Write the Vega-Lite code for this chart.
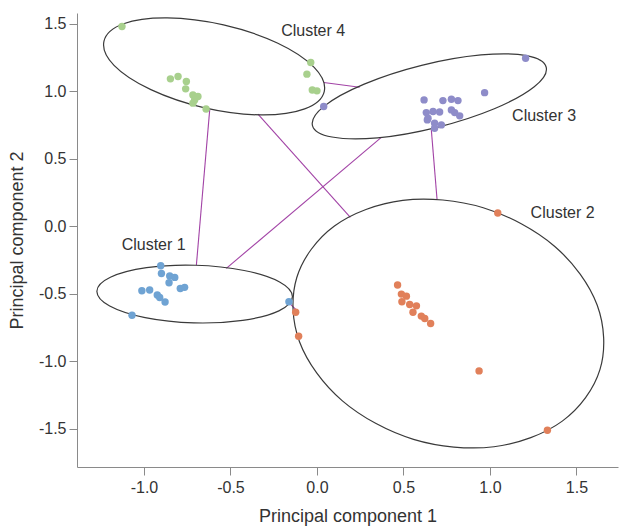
{
  "$schema": "https://vega.github.io/schema/vega-lite/v6.json",
  "width": 541,
  "height": 454,
  "autosize": {"type": "none"},
  "padding": {"left": 77, "top": 13, "right": 7, "bottom": 62},
  "background": "white",
  "config": {
    "view": {"stroke": null},
    "font": "Liberation Sans",
    "axis": {
      "grid": false,
      "domainColor": "#8a8a8a",
      "tickColor": "#8a8a8a",
      "tickSize": 8,
      "labelColor": "#333333",
      "titleColor": "#333333",
      "labelFont": "Liberation Sans",
      "titleFont": "Liberation Sans",
      "labelFontSize": 16,
      "titleFontSize": 18,
      "titleFontWeight": "normal"
    }
  },
  "datasets": {
    "pts": [
      {"cluster": "4", "x": -1.127, "y": 1.48},
      {"cluster": "4", "x": -0.847, "y": 1.092},
      {"cluster": "4", "x": -0.803, "y": 1.109},
      {"cluster": "4", "x": -0.755, "y": 1.072},
      {"cluster": "4", "x": -0.759, "y": 1.018},
      {"cluster": "4", "x": -0.717, "y": 0.973},
      {"cluster": "4", "x": -0.688, "y": 0.961},
      {"cluster": "4", "x": -0.707, "y": 0.936},
      {"cluster": "4", "x": -0.717, "y": 0.912},
      {"cluster": "4", "x": -0.641, "y": 0.869},
      {"cluster": "4", "x": -0.036, "y": 1.213},
      {"cluster": "4", "x": -0.058, "y": 1.127},
      {"cluster": "4", "x": -0.027, "y": 1.01},
      {"cluster": "4", "x": 0.0, "y": 1.003},
      {"cluster": "3", "x": 0.039, "y": 0.887},
      {"cluster": "3", "x": 1.206, "y": 1.245},
      {"cluster": "3", "x": 0.969, "y": 0.99},
      {"cluster": "3", "x": 0.619, "y": 0.936},
      {"cluster": "3", "x": 0.728, "y": 0.931},
      {"cluster": "3", "x": 0.777, "y": 0.941},
      {"cluster": "3", "x": 0.815, "y": 0.931},
      {"cluster": "3", "x": 0.632, "y": 0.842},
      {"cluster": "3", "x": 0.671, "y": 0.85},
      {"cluster": "3", "x": 0.709, "y": 0.847},
      {"cluster": "3", "x": 0.777, "y": 0.862},
      {"cluster": "3", "x": 0.796, "y": 0.842},
      {"cluster": "3", "x": 0.825, "y": 0.818},
      {"cluster": "3", "x": 0.642, "y": 0.8},
      {"cluster": "3", "x": 0.68, "y": 0.763},
      {"cluster": "3", "x": 0.719, "y": 0.751},
      {"cluster": "3", "x": 0.638, "y": 0.788},
      {"cluster": "3", "x": 0.68, "y": 0.726},
      {"cluster": "1", "x": -0.903, "y": -0.293},
      {"cluster": "1", "x": -0.899, "y": -0.35},
      {"cluster": "1", "x": -0.851, "y": -0.369},
      {"cluster": "1", "x": -0.822, "y": -0.379},
      {"cluster": "1", "x": -0.855, "y": -0.419},
      {"cluster": "1", "x": -0.79, "y": -0.461},
      {"cluster": "1", "x": -0.765, "y": -0.453},
      {"cluster": "1", "x": -1.012, "y": -0.478},
      {"cluster": "1", "x": -0.967, "y": -0.473},
      {"cluster": "1", "x": -0.923, "y": -0.51},
      {"cluster": "1", "x": -0.909, "y": -0.528},
      {"cluster": "1", "x": -0.878, "y": -0.562},
      {"cluster": "1", "x": -1.069, "y": -0.659},
      {"cluster": "1", "x": -0.162, "y": -0.56},
      {"cluster": "2", "x": -0.123, "y": -0.637},
      {"cluster": "2", "x": -0.106, "y": -0.815},
      {"cluster": "2", "x": 0.466, "y": -0.436},
      {"cluster": "2", "x": 0.488, "y": -0.503},
      {"cluster": "2", "x": 0.517, "y": -0.518},
      {"cluster": "2", "x": 0.491, "y": -0.56},
      {"cluster": "2", "x": 0.536, "y": -0.58},
      {"cluster": "2", "x": 0.575, "y": -0.59},
      {"cluster": "2", "x": 0.555, "y": -0.637},
      {"cluster": "2", "x": 0.603, "y": -0.666},
      {"cluster": "2", "x": 0.623, "y": -0.684},
      {"cluster": "2", "x": 0.657, "y": -0.721},
      {"cluster": "2", "x": 0.937, "y": -1.072},
      {"cluster": "2", "x": 1.332, "y": -1.512},
      {"cluster": "2", "x": 1.045, "y": 0.098}
    ],
    "ell": [
      {"e": "E4", "i": 0, "x": 0.042, "y": 0.998},
      {"e": "E4", "i": 1, "x": -0.071, "y": 0.87},
      {"e": "E4", "i": 2, "x": -0.323, "y": 0.825},
      {"e": "E4", "i": 3, "x": -0.649, "y": 0.877},
      {"e": "E4", "i": 4, "x": -0.96, "y": 1.012},
      {"e": "E4", "i": 5, "x": -1.173, "y": 1.192},
      {"e": "E4", "i": 6, "x": -1.231, "y": 1.371},
      {"e": "E4", "i": 7, "x": -1.118, "y": 1.5},
      {"e": "E4", "i": 8, "x": -0.865, "y": 1.544},
      {"e": "E4", "i": 9, "x": -0.54, "y": 1.492},
      {"e": "E4", "i": 10, "x": -0.229, "y": 1.358},
      {"e": "E4", "i": 11, "x": -0.016, "y": 1.177},
      {"e": "E3", "i": 0, "x": 1.325, "y": 1.178},
      {"e": "E3", "i": 1, "x": 1.256, "y": 1.034},
      {"e": "E3", "i": 2, "x": 1.025, "y": 0.871},
      {"e": "E3", "i": 3, "x": 0.694, "y": 0.733},
      {"e": "E3", "i": 4, "x": 0.35, "y": 0.655},
      {"e": "E3", "i": 5, "x": 0.087, "y": 0.661},
      {"e": "E3", "i": 6, "x": -0.026, "y": 0.746},
      {"e": "E3", "i": 7, "x": 0.042, "y": 0.89},
      {"e": "E3", "i": 8, "x": 0.273, "y": 1.053},
      {"e": "E3", "i": 9, "x": 0.605, "y": 1.192},
      {"e": "E3", "i": 10, "x": 0.948, "y": 1.269},
      {"e": "E3", "i": 11, "x": 1.212, "y": 1.264},
      {"e": "E1", "i": 0, "x": -0.142, "y": -0.523},
      {"e": "E1", "i": 1, "x": -0.22, "y": -0.627},
      {"e": "E1", "i": 2, "x": -0.429, "y": -0.697},
      {"e": "E1", "i": 3, "x": -0.712, "y": -0.716},
      {"e": "E1", "i": 4, "x": -0.993, "y": -0.677},
      {"e": "E1", "i": 5, "x": -1.198, "y": -0.591},
      {"e": "E1", "i": 6, "x": -1.272, "y": -0.482},
      {"e": "E1", "i": 7, "x": -1.194, "y": -0.378},
      {"e": "E1", "i": 8, "x": -0.985, "y": -0.307},
      {"e": "E1", "i": 9, "x": -0.702, "y": -0.289},
      {"e": "E1", "i": 10, "x": -0.421, "y": -0.328},
      {"e": "E1", "i": 11, "x": -0.216, "y": -0.413},
      {"e": "E2", "i": 0, "x": 1.636, "y": -1.061},
      {"e": "E2", "i": 1, "x": 1.418, "y": -1.444},
      {"e": "E2", "i": 2, "x": 1.023, "y": -1.634},
      {"e": "E2", "i": 3, "x": 0.558, "y": -1.579},
      {"e": "E2", "i": 4, "x": 0.147, "y": -1.294},
      {"e": "E2", "i": 5, "x": -0.101, "y": -0.856},
      {"e": "E2", "i": 6, "x": -0.117, "y": -0.382},
      {"e": "E2", "i": 7, "x": 0.101, "y": 0.002},
      {"e": "E2", "i": 8, "x": 0.496, "y": 0.192},
      {"e": "E2", "i": 9, "x": 0.961, "y": 0.137},
      {"e": "E2", "i": 10, "x": 1.373, "y": -0.148},
      {"e": "E2", "i": 11, "x": 1.62, "y": -0.586}
    ],
    "links": [
      {"x": 0.039, "y": 1.065, "x2": 0.247, "y2": 1.03},
      {"x": -0.62, "y": 0.862, "x2": -0.697, "y2": -0.288},
      {"x": -0.341, "y": 0.83, "x2": 0.193, "y2": 0.066},
      {"x": 0.372, "y": 0.659, "x2": -0.524, "y2": -0.312},
      {"x": 0.661, "y": 0.714, "x2": 0.694, "y2": 0.2},
      {"x": -0.164, "y": -0.564, "x2": -0.123, "y2": -0.616}
    ],
    "labels": [
      {"text": "Cluster 4", "x": -0.022, "y": 1.448},
      {"text": "Cluster 3", "x": 1.313, "y": 0.818},
      {"text": "Cluster 2", "x": 1.42, "y": 0.098},
      {"text": "Cluster 1", "x": -0.944, "y": -0.139}
    ]
  },
  "layer": [
    {
      "data": {"name": "links"},
      "mark": {"type": "rule", "color": "#a243a6", "strokeWidth": 1.1},
      "encoding": {
        "x": {"field": "x", "type": "quantitative", "scale": {"domain": [-1.387, 1.74], "nice": false, "zero": false},
          "axis": {"title": "Principal component 1", "values": [-1, -0.5, 0, 0.5, 1, 1.5], "labelExpr": "replace(format(datum.value, '.1f'), '\u2212', '-')", "labelPadding": 4, "titlePadding": 12}},
        "y": {"field": "y", "type": "quantitative", "scale": {"domain": [-1.784, 1.58], "nice": false, "zero": false},
          "axis": {"title": "Principal component 2", "values": [-1.5, -1, -0.5, 0, 0.5, 1, 1.5], "labelExpr": "replace(format(datum.value, '.1f'), '\u2212', '-')", "labelPadding": 3, "titlePadding": 12}},
        "x2": {"field": "x2"},
        "y2": {"field": "y2"}
      }
    },
    {
      "data": {"name": "ell"},
      "mark": {"type": "line", "interpolate": "cardinal-closed", "color": "#3a3a3a", "strokeWidth": 1.2},
      "encoding": {
        "x": {"field": "x", "type": "quantitative"},
        "y": {"field": "y", "type": "quantitative"},
        "detail": {"field": "e"},
        "order": {"field": "i", "type": "quantitative"}
      }
    },
    {
      "data": {"name": "pts"},
      "mark": {"type": "circle", "size": 55, "opacity": 1},
      "encoding": {
        "x": {"field": "x", "type": "quantitative"},
        "y": {"field": "y", "type": "quantitative"},
        "color": {"field": "cluster", "type": "nominal", "legend": null,
          "scale": {"domain": ["1", "2", "3", "4"], "range": ["#6fa3d3", "#e1805a", "#8e8cc9", "#a8d08d"]}}
      }
    },
    {
      "data": {"name": "labels"},
      "mark": {"type": "text", "fontSize": 16, "color": "#333333", "align": "center", "baseline": "middle", "font": "Liberation Sans"},
      "encoding": {
        "x": {"field": "x", "type": "quantitative"},
        "y": {"field": "y", "type": "quantitative"},
        "text": {"field": "text"}
      }
    }
  ]
}
